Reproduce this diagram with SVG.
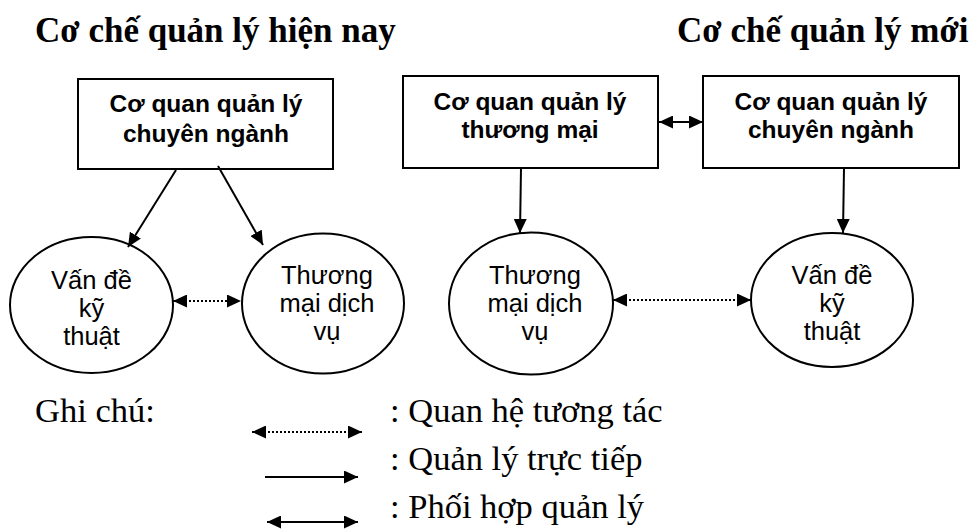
<svg xmlns="http://www.w3.org/2000/svg" width="973" height="531" viewBox="0 0 973 531">
<style>
.title{font-family:"Liberation Serif","Times New Roman",serif;font-weight:bold;font-size:35px;fill:#000}
.legend{font-family:"Liberation Serif","Times New Roman",serif;font-size:34.5px;fill:#000}
.box{fill:#fff;stroke:#000;stroke-width:2}
.ell{fill:#fff;stroke:#000;stroke-width:2}
.bt{font-family:"Liberation Sans",Arial,sans-serif;font-weight:bold;font-size:24.5px;fill:#000;text-anchor:middle}
.et{font-family:"Liberation Sans",Arial,sans-serif;font-size:25.5px;fill:#000;text-anchor:middle}
.solid{stroke:#000;stroke-width:2;fill:none}
.dot{stroke:#000;stroke-width:2;fill:none;stroke-dasharray:2 2}
</style>
<defs>
<marker id="ah" markerUnits="userSpaceOnUse" viewBox="0 0 14 13" refX="14" refY="6.5" markerWidth="14" markerHeight="13" orient="auto-start-reverse">
<path d="M0,0 L14,6.5 L0,13 z" fill="#000"/>
</marker>
</defs>
<text class="title" x="35" y="42">Cơ chế quản lý hiện nay</text>
<text class="title" x="677" y="42">Cơ chế quản lý mới</text>
<g id="box-cn-left">
<rect class="box" x="78" y="79" width="255" height="90"/>
<text class="bt" x="206" y="112">Cơ quan quản lý</text>
<text class="bt" x="206" y="142">chuyên ngành</text>
</g>
<g id="box-tm-right">
<rect class="box" x="403" y="76" width="255" height="92"/>
<text class="bt" x="530" y="110">Cơ quan quản lý</text>
<text class="bt" x="530" y="138">thương mại</text>
</g>
<g id="box-cn-right">
<rect class="box" x="703" y="76" width="256" height="92"/>
<text class="bt" x="831" y="110">Cơ quan quản lý</text>
<text class="bt" x="831" y="138">chuyên ngành</text>
</g>
<g id="ell-vande-left">
<ellipse class="ell" cx="91.5" cy="305" rx="81.5" ry="68"/>
<text class="et" x="91.5" y="289">Vấn đề</text>
<text class="et" x="91.5" y="317">kỹ</text>
<text class="et" x="91.5" y="345">thuật</text>
</g>
<g id="ell-tm-left">
<ellipse class="ell" cx="323" cy="303.5" rx="81" ry="70"/>
<text class="et" x="327" y="284">Thương</text>
<text class="et" x="327" y="312">mại dịch</text>
<text class="et" x="327" y="340">vụ</text>
</g>
<g id="ell-tm-right">
<ellipse class="ell" cx="531" cy="303.5" rx="82" ry="71"/>
<text class="et" x="535" y="284">Thương</text>
<text class="et" x="535" y="312">mại dịch</text>
<text class="et" x="535" y="340">vụ</text>
</g>
<g id="ell-vande-right">
<ellipse class="ell" cx="832" cy="300" rx="81" ry="67"/>
<text class="et" x="832" y="284">Vấn đề</text>
<text class="et" x="832" y="312">kỹ</text>
<text class="et" x="832" y="340">thuật</text>
</g>
<g id="connectors">
<line class="solid" x1="176" y1="170" x2="128" y2="247" marker-end="url(#ah)"/>
<line class="solid" x1="218" y1="166" x2="263" y2="245" marker-end="url(#ah)"/>
<line class="dot" x1="173" y1="301" x2="241" y2="301" marker-start="url(#ah)" marker-end="url(#ah)"/>
<line class="solid" x1="659" y1="122" x2="703" y2="122" marker-start="url(#ah)" marker-end="url(#ah)"/>
<line class="solid" x1="521" y1="168" x2="520" y2="233" marker-end="url(#ah)"/>
<line class="solid" x1="844" y1="168" x2="843" y2="233" marker-end="url(#ah)"/>
<line class="dot" x1="613" y1="300" x2="751" y2="300" marker-start="url(#ah)" marker-end="url(#ah)"/>
</g>
<g id="legend">
<text class="legend" x="35" y="422">Ghi chú:</text>
<line class="dot" x1="252" y1="432" x2="362" y2="432" marker-start="url(#ah)" marker-end="url(#ah)"/>
<line class="solid" x1="265" y1="477" x2="358" y2="477" marker-end="url(#ah)"/>
<line class="solid" x1="267" y1="522" x2="358" y2="522" marker-start="url(#ah)" marker-end="url(#ah)"/>
<text class="legend" x="390" y="422">: Quan hệ tương tác</text>
<text class="legend" x="390" y="470">: Quản lý trực tiếp</text>
<text class="legend" x="390" y="518">: Phối hợp quản lý</text>
</g>
</svg>
